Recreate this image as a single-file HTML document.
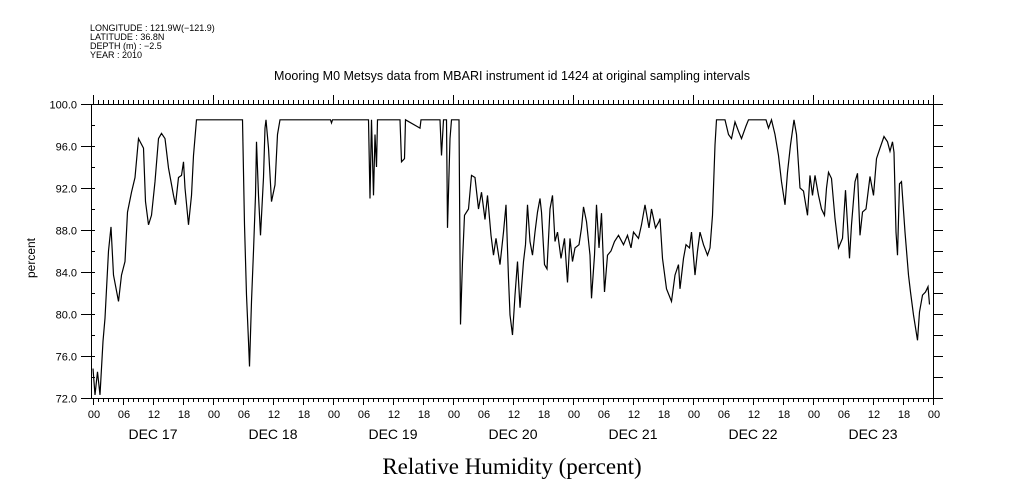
<!DOCTYPE html>
<html><head><meta charset="utf-8"><style>
html,body{margin:0;padding:0;background:#fff;}
svg{display:block;font-family:"Liberation Sans",sans-serif;}
</style></head><body>
<svg id="chart" width="1009" height="504" viewBox="0 0 1009 504" xmlns="http://www.w3.org/2000/svg">
<rect width="1009" height="504" fill="#fff"/>
<g font-size="9" fill="#000">
<text x="90" y="31">LONGITUDE : 121.9W(−121.9)</text>
<text x="90" y="40">LATITUDE : 36.8N</text>
<text x="90" y="49">DEPTH (m) : −2.5</text>
<text x="90" y="58">YEAR : 2010</text>
</g>
<text x="512" y="80" text-anchor="middle" font-size="12.5">Mooring M0 Metsys data from MBARI instrument id 1424 at original sampling intervals</text>
<text x="512" y="474" text-anchor="middle" font-size="23" font-family="'Liberation Serif',serif">Relative Humidity (percent)</text>
<text transform="translate(35,258) rotate(-90)" text-anchor="middle" font-size="12">percent</text>
<g id="axes"></g>
<g id="series"></g>
</svg>
<script>
const hours=[0,0.4,0.9,1.4,2,2.4,3.1,3.6,4.1,5.1,5.7,6.4,6.9,7.7,8.4,9.1,10.1,10.5,11.1,11.7,12.4,13.1,13.7,14.4,15.1,16.1,16.5,17.1,17.7,18.1,18.4,19.1,19.7,20.1,20.7,29.9,30.3,30.7,31.1,31.3,31.7,32.1,32.5,32.7,33.1,33.5,34.1,34.4,34.6,35.1,35.7,36.4,36.9,37.4,47.5,47.7,47.9,55.1,55.4,55.7,56.1,56.4,56.7,56.9,61.4,61.7,62.3,62.5,65.4,65.6,69.4,69.7,70.1,70.7,70.9,71.4,71.7,73.2,73.5,73.9,74.3,75.1,75.7,76.4,77.1,77.7,78.4,78.9,79.6,80.1,80.6,81.4,82.1,82.6,83.1,83.4,83.9,84.4,84.9,85.4,86.1,86.5,86.9,87.4,87.9,88.4,88.9,89.4,89.7,90.3,90.8,91.4,91.9,92.4,92.9,93.6,94.3,94.9,95.4,95.9,96.4,97.2,97.7,98.1,98.7,99.4,99.7,100.3,100.7,101.2,101.7,102.3,102.9,103.6,104.3,105.1,106.1,106.9,107.6,108.1,109.1,109.7,110.4,111.2,111.7,112.5,113.2,113.4,113.9,114.7,115.7,116.4,117.1,117.4,118.1,118.6,119.3,119.7,120.4,120.9,121.4,122.1,122.9,123.4,123.9,124.4,124.7,126.4,127.1,127.7,128.4,129.1,129.7,130.6,131.1,134.6,135.1,135.7,136.4,137.1,137.7,138.4,138.9,139.5,140.2,140.7,141.4,142.1,142.9,143.4,143.9,144.4,145.1,145.7,146.3,146.7,147.1,147.7,148.4,149.1,149.9,150.5,151.3,151.7,152.4,152.9,153.4,153.9,154.6,155.4,156.1,156.7,157.4,158.2,158.9,159.4,159.9,160.2,160.6,160.9,161.3,161.7,162.4,163.1,163.5,164.1,164.9,165.3,165.9,166.5,167,167.3];
const rh=[74.8,72.3,74.5,72.3,77.4,79.6,86,88.3,83.7,81.2,83.7,85,89.7,91.6,93,96.7,95.8,90.7,88.5,89.4,92.6,96.7,97.2,96.7,93.9,91.3,90.4,93,93.2,94.5,92,88.5,91.3,95.1,98.5,98.5,88.5,81.8,77.4,75,81.2,86,91.3,96.4,91.3,87.5,93,97.7,98.5,95.8,90.7,92.3,97.1,98.5,98.5,98.2,98.5,98.5,91,98.5,91.3,97.1,94,98.5,98.5,94.5,94.8,98.5,97.7,98.5,98.5,95.1,98.5,98.5,88.2,96.7,98.5,98.5,79,85,89.4,90,93.2,93,90,91.6,89,91.3,87.5,85.6,87.2,84.7,87.8,90.4,83.4,79.9,78,81.8,85,80.6,85,86.6,90.4,86.9,85.6,87.8,89.7,91,89.7,84.7,84.3,90,91.3,86.9,87.8,85.3,87.2,83,87.2,85,86.3,86.6,88.2,90.2,88.8,85.6,81.5,85.6,90.4,86.3,89.6,82.1,85.6,86,86.9,87.5,86.6,87.5,86.3,87.8,87.2,88.5,90.4,88.2,90,88.2,88.8,89.1,85.3,82.4,81.2,83.7,84.7,82.4,85.3,86.6,86.3,87.8,83.7,86,87.8,86.6,85.6,86.3,89.4,96.1,98.5,98.5,97.1,96.7,98.3,97.4,96.7,97.9,98.5,98.5,97.7,98.5,97.1,95.1,92.6,90.4,93.5,96.1,98.5,97.1,92,91.7,89.4,93.2,91.3,93.2,91.3,90,89.4,92,93.5,92.9,89.1,86.3,87.2,91.8,85.3,88.5,92.6,93.4,87.5,89.7,90,93.1,91.3,94.8,95.8,96.9,96.4,95.5,96.4,95.4,87.8,85.6,92.4,92.6,87.8,83.7,82.1,79.9,77.5,80.2,81.8,82.1,82.6,80.9];
const yTicks=[72,76,80,84,88,92,96,100];
const yTickLabels=["72.0","76.0","80.0","84.0","88.0","92.0","96.0","100.0"];
const dayLabels=["DEC 17","DEC 18","DEC 19","DEC 20","DEC 21","DEC 22","DEC 23"];
const hourLabels=["00","06","12","18"];

const X0=93,X1=933,Y0=398,Y1=104,H=168,VMIN=72,VMAX=100;
const xs=h=>X0+(h/H)*(X1-X0);
const ys=v=>Y0-(v-VMIN)/(VMAX-VMIN)*(Y0-Y1);
const NS="http://www.w3.org/2000/svg";
const axes=document.getElementById('axes');
function mk(tag,parent){const e=document.createElementNS(NS,tag);parent.appendChild(e);return e;}
function line(x1,y1,x2,y2){const l=mk('line',axes);l.setAttribute('x1',x1);l.setAttribute('y1',y1);l.setAttribute('x2',x2);l.setAttribute('y2',y2);l.setAttribute('stroke','#000');l.setAttribute('stroke-width','1');return l;}

const frame=mk('rect',axes);


frame.setAttribute('x',91.5);frame.setAttribute('y',Y1+0.5);frame.setAttribute('width',X1-91);frame.setAttribute('height',Y0-Y1);
frame.setAttribute('fill','none');frame.setAttribute('stroke','#000');

for(let h=0;h<=H;h++){
  const x=Math.round(xs(h))+0.5;
  const tt=line(x,Y1,x,Y1-(h%24===0?9:4));
  
  
  const bt=line(x,Y0,x,Y0+(h%6===0?7:4));
  
  
}
for(let d=0;d<=7;d++){
  for(let k=0;k<4;k++){
    if(d===7&&k>0)break;
    const h=d*24+k*6;
    const t=mk('text',axes);
    
    
    t.setAttribute('x',xs(h)+1);t.setAttribute('y',418);t.setAttribute('text-anchor','middle');t.setAttribute('font-size','11');
    t.textContent=hourLabels[k];
  }
}
dayLabels.forEach((lab,i)=>{
  const t=mk('text',axes);
  
  
  t.setAttribute('x',xs(i*24+12));t.setAttribute('y',439);t.setAttribute('text-anchor','middle');t.setAttribute('font-size','14');
  t.textContent=lab;
});
for(let v=VMIN;v<=VMAX;v+=2){
  const y=Math.round(ys(v))+0.5;
  const r=line(X1,y,X1+10,y);
  
  
  const l=line(91,y,95,y);
  
  
}
yTicks.forEach((v,i)=>{
  const y=Math.round(ys(v))+0.5;
  const l=line(81,y,91,y);
  
  
  const t=mk('text',axes);
  
  
  t.setAttribute('x',77);t.setAttribute('y',y+4);t.setAttribute('text-anchor','end');t.setAttribute('font-size','11');
  t.textContent=yTickLabels[i];
});
const p=mk('polyline',document.getElementById('series'));


p.setAttribute('points',hours.map((h,i)=>xs(h).toFixed(1)+','+ys(rh[i]).toFixed(1)).join(' '));
p.setAttribute('fill','none');p.setAttribute('stroke','#000');p.setAttribute('stroke-width','1.2');
</script>
</body></html>
